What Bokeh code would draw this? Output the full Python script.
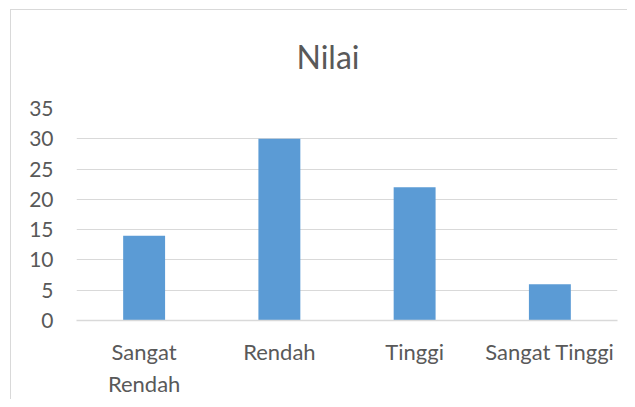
from bokeh.plotting import figure
from bokeh.models import ColumnDataSource, Range1d, FixedTicker
from bokeh.embed import file_html
from bokeh.resources import INLINE

categories = ["Sangat\nRendah", "Rendah", "Tinggi", "Sangat Tinggi"]
values = [14, 30, 22, 6]
y_ticks = [0, 5, 10, 15, 20, 25, 30, 35]
title_text = "Nilai"

FONT = "Lato"
GRID = "#d9d9d9"
TEXT = "#595959"

source = ColumnDataSource(data=dict(cat=categories, val=values))

p = figure(
    x_range=categories,
    y_range=Range1d(0, 35),
    width=627, height=399,
    output_backend="svg", toolbar_location=None,
    min_border_left=76, min_border_right=10,
    min_border_top=108, min_border_bottom=77,
    title=title_text,
)
p.styles = {
    "background": (
        "linear-gradient(#d9d9d9,#d9d9d9) 10px 9px / 1px 100% no-repeat, "
        "linear-gradient(#d9d9d9,#d9d9d9) 10px 9px / 100% 1px no-repeat, white"
    )
}

p.vbar(x="cat", top="val", width=0.31, source=source,
       fill_color="#5B9BD5", line_color=None)

p.title.align = "left"
p.title.text_font = FONT
p.title.text_font_size = "32px"
p.title.text_font_style = "normal"
p.title.text_color = TEXT
p.title.standoff = 65
p.title.offset = 220

p.outline_line_color = None
p.background_fill_color = "white"
p.border_fill_color = None

p.xgrid.grid_line_color = None
p.ygrid.grid_line_color = GRID
p.ygrid.grid_line_width = 1

p.yaxis.ticker = FixedTicker(ticks=y_ticks)
p.yaxis.axis_line_color = None
p.yaxis.major_tick_line_color = None
p.yaxis.minor_tick_line_color = None
p.yaxis.major_label_standoff = 17
p.yaxis.major_label_text_font = FONT
p.yaxis.major_label_text_font_size = "21px"
p.yaxis.major_label_text_color = TEXT

p.xaxis.axis_line_color = GRID
p.xaxis.axis_line_width = 1.5
p.xaxis.major_tick_line_color = None
p.xaxis.minor_tick_line_color = None
p.xaxis.major_label_standoff = 11
p.xaxis.major_label_text_font = FONT
p.xaxis.major_label_text_font_size = "22px"
p.xaxis.major_label_text_color = TEXT
p.x_range.range_padding = 0

open("out.html", "w").write(file_html(p, INLINE))
